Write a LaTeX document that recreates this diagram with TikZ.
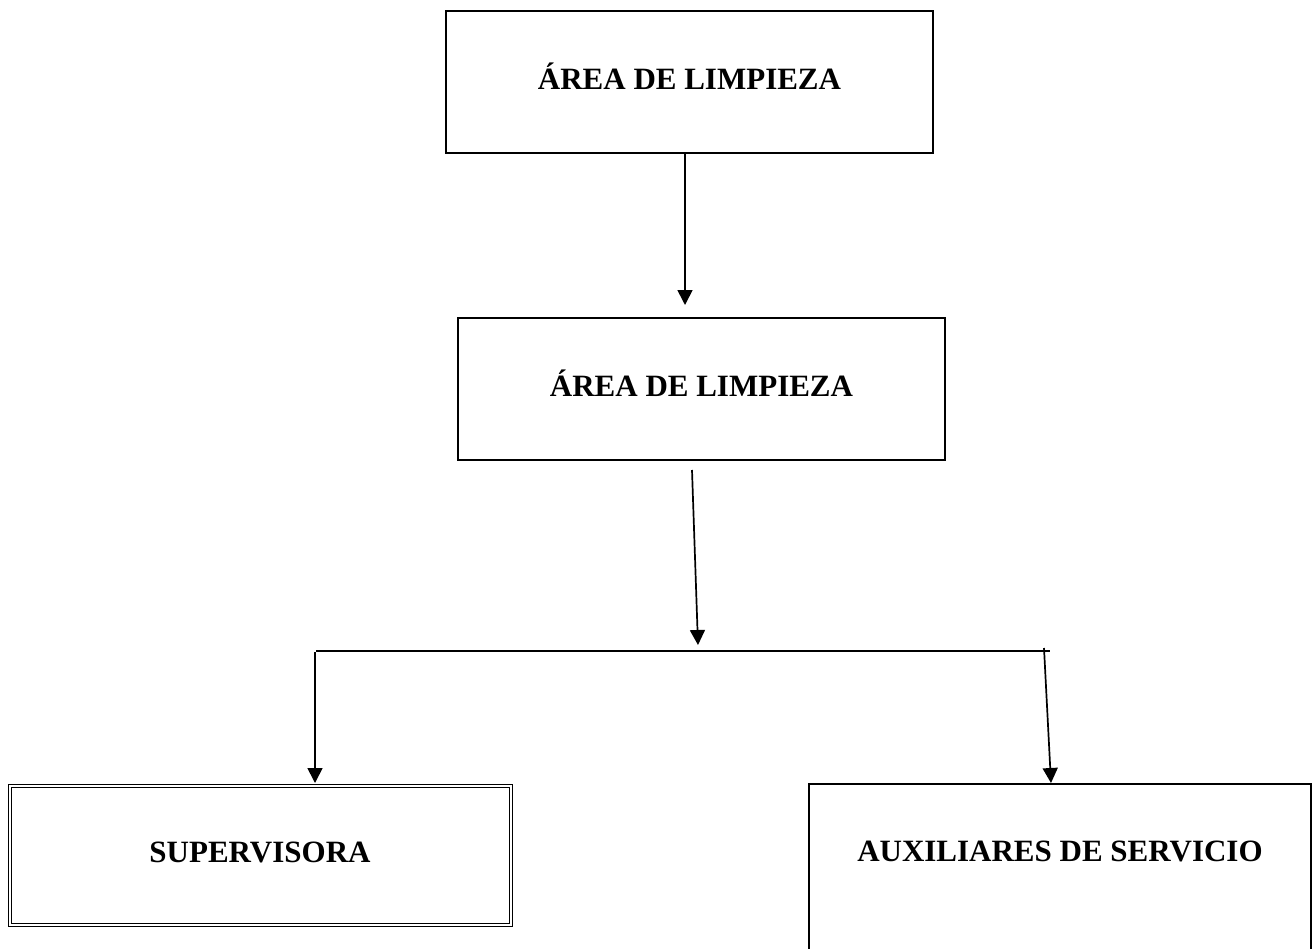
\documentclass[tikz,border=0pt]{standalone}
\usepackage{fontspec}
\setmainfont{Liberation Serif}
\usetikzlibrary{arrows.meta}
\begin{document}
\begin{tikzpicture}[x=1pt,y=-1pt,
  lbl/.style={font=\bfseries\fontsize{31}{34}\selectfont},
  box/.style={draw, line width=1.7pt, inner sep=0pt, lbl, text height=21pt, text depth=7pt},
  thinline/.style={draw, line width=1pt},
  conn/.style={line width=1.7pt},
  arr/.style={conn, -{Triangle[width=15pt,length=15pt]}},
]
\useasboundingbox (0,0) rectangle (1312,948);
\clip (0,0) rectangle (1312,948);

\node[box, minimum width=487, minimum height=142] (b1) at (689.5,82) {ÁREA DE LIMPIEZA};
\node[box, minimum width=487, minimum height=142] (b2) at (701.5,389) {ÁREA DE LIMPIEZA};
\node[box, line width=1pt, minimum width=504, minimum height=142] (sup) at (260,855) {SUPERVISORA};
\draw[thinline] ([xshift=3.5pt,yshift=-3.5pt]sup.north west) rectangle ([xshift=-3.5pt,yshift=3.5pt]sup.south east);
\node[box, minimum width=502, minimum height=220] (aux) at (1060,894) {};
\node[lbl, anchor=base] (auxt) at ([yshift=-78pt]aux.north) {AUXILIARES DE SERVICIO};

\coordinate (a1s) at (685,153);
\coordinate (a1e) at (685,305);
\coordinate (a2s) at (692,470);
\coordinate (a2e) at (698,645);
\coordinate (hl) at (316,651);
\coordinate (hr) at (1050,651);
\coordinate (a3s) at (315,652);
\coordinate (a3e) at (315,783);
\coordinate (a4s) at (1044,648);
\coordinate (a4e) at (1051,783);

\draw[arr] (a1s) -- (a1e);
\draw[arr] (a2s) -- (a2e);
\draw[conn] (hl) -- (hr);
\draw[arr] (a3s) -- (a3e);
\draw[arr] (a4s) -- (a4e);
\end{tikzpicture}
\end{document}
